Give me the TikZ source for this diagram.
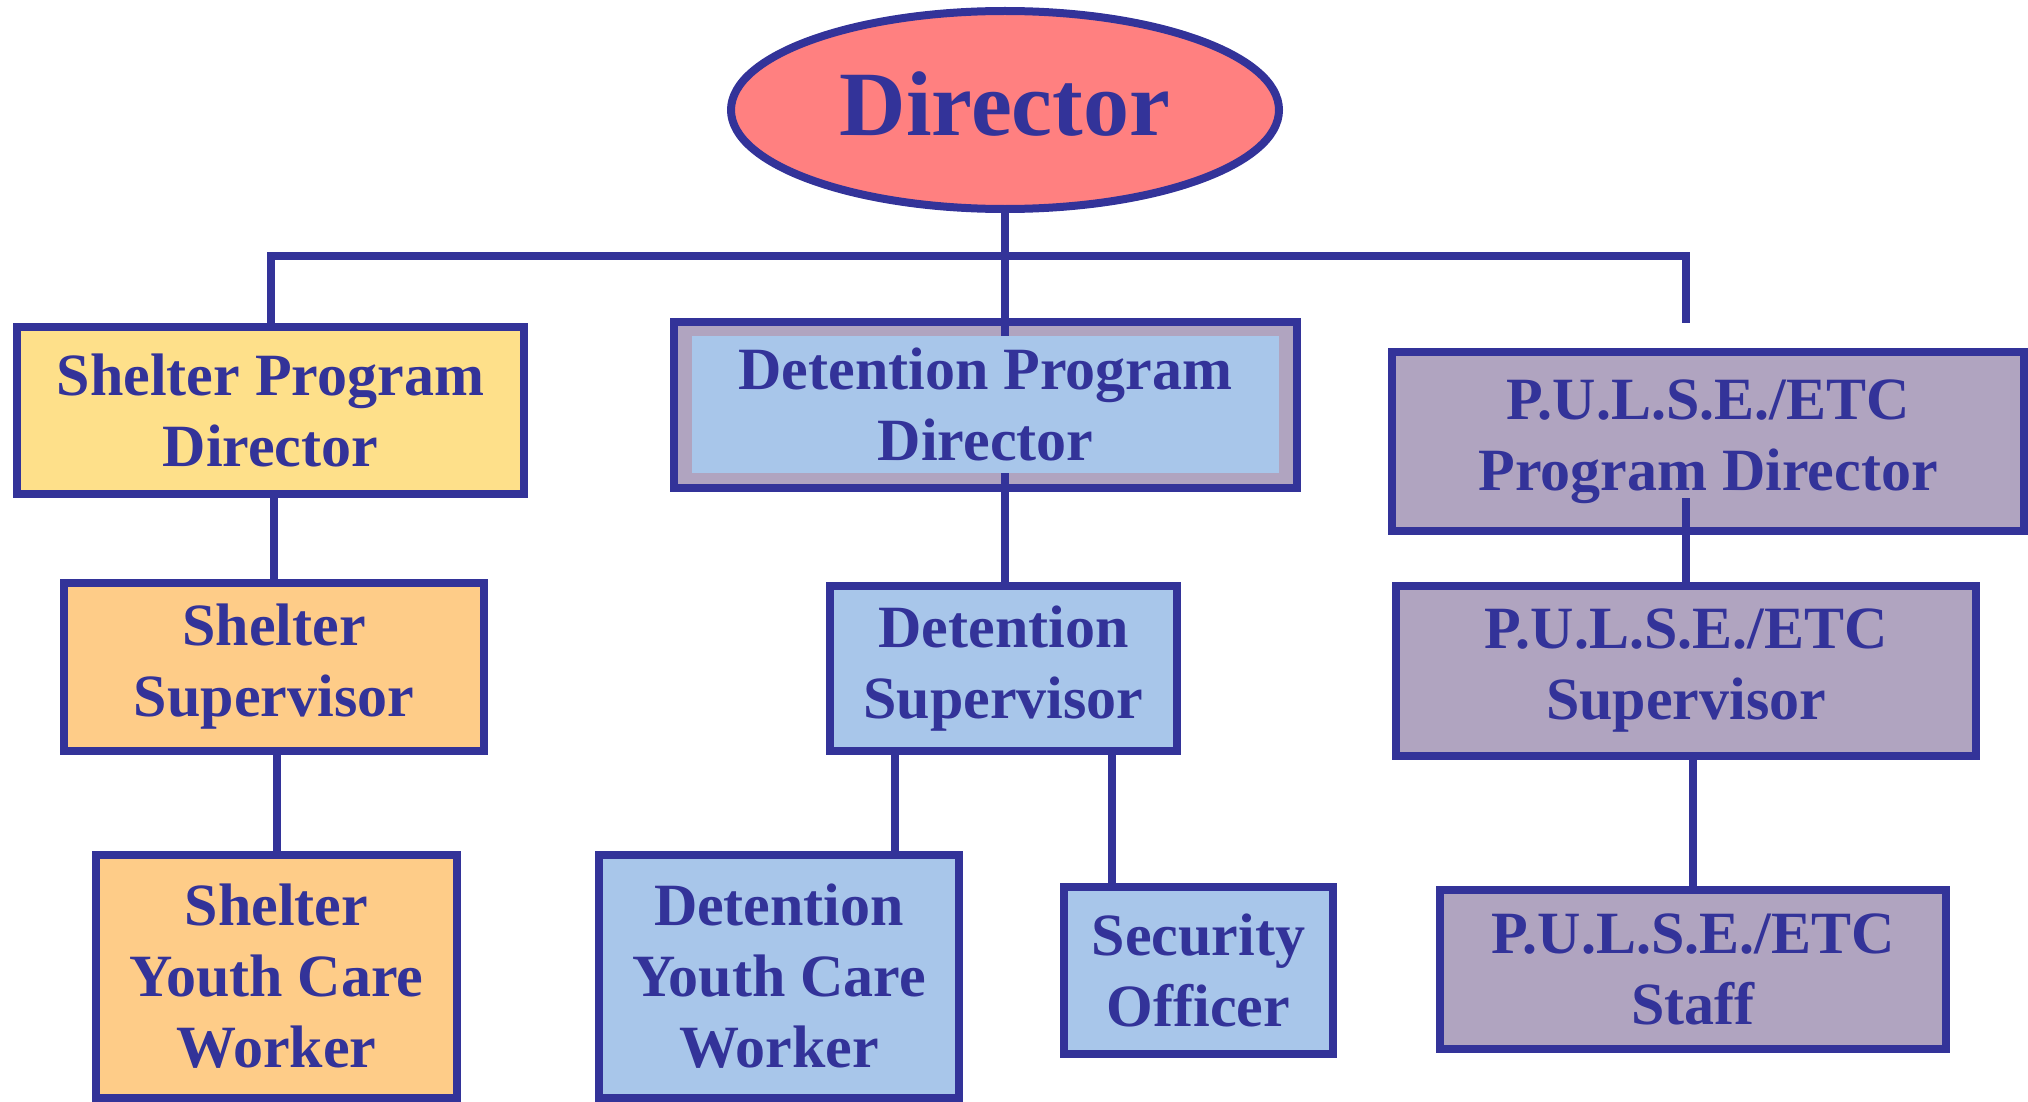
\documentclass[tikz,border=0pt]{standalone}
\usepackage{fontspec}
\setmainfont{Liberation Serif}
\usepackage{tikz}
\usetikzlibrary{shapes.geometric}
\definecolor{ink}{RGB}{51,51,153}
\definecolor{top}{RGB}{255,128,128}
\definecolor{shelter}{RGB}{254,224,138}
\definecolor{shelterlow}{RGB}{254,204,136}
\definecolor{detention}{RGB}{168,198,234}
\definecolor{pulse}{RGB}{176,164,192}
\newcommand{\drawwire}{\draw[line width=4pt, ink]}
\tikzset{
    unit/.style={draw=ink, line width=4pt, inner sep=0pt, align=center, text=ink,
        font=\fontsize{30}{35.5}\selectfont\bfseries},
}

\begin{document}
\begin{tikzpicture}[x=1pt, y=-1pt]
\useasboundingbox (0,0) rectangle (1014,551);
% top of the chart
\node[unit, ellipse, fill=top, minimum width=274pt, minimum height=99pt, text depth=6pt,
    font=\fontsize{46}{50}\selectfont\bfseries] (director) at (502.5,55) {Director};
% program directors
\node[unit, fill=shelter, minimum width=253.5pt, minimum height=83.5pt] (spd) at (135.25,205.25) {Shelter Program\\Director};
\node[unit, fill=pulse, minimum width=311.5pt, minimum height=83pt] (dpdframe) at (492.75,202.5) {};
\node[unit, draw=none, outer sep=0pt, fill=detention, minimum width=293.5pt, minimum height=68.5pt] (dpd) at (492.75,202.25) {Detention Program\\Director};
\node[unit, fill=pulse, minimum width=316pt, minimum height=89.5pt] (ppd) at (854,220.75) {P.U.L.S.E./ETC\\Program Director};
% supervisors
\node[unit, fill=shelterlow, minimum width=210pt, minimum height=84pt] (ssup) at (137,333.5) {Shelter\\Supervisor};
\node[unit, fill=detention, minimum width=173.5pt, minimum height=82.5pt] (dsup) at (501.75,334.25) {Detention\\Supervisor};
\node[unit, fill=pulse, minimum width=290pt, minimum height=85pt] (psup) at (843,335.5) {P.U.L.S.E./ETC\\Supervisor};
% staff
\node[unit, fill=shelterlow, minimum width=180.5pt, minimum height=121.5pt] (sycw) at (138.25,488.25) {Shelter\\Youth Care\\Worker};
\node[unit, fill=detention, minimum width=180pt, minimum height=121.5pt] (dycw) at (389.5,488.25) {Detention\\Youth Care\\Worker};
\node[unit, fill=detention, minimum width=134.5pt, minimum height=83.5pt] (sec) at (599.25,485.25) {Security\\Officer};
\node[unit, fill=pulse, minimum width=253pt, minimum height=79.5pt] (staff) at (846.5,484.75) {P.U.L.S.E./ETC\\Staff};
% wires
\coordinate (busend) at (842.75,128);
\coordinate (pulsedrop) at (842.75,161.5);
\drawwire (spd.north) |- (busend) -- (pulsedrop);
\drawwire (director.south) -- (director.south |- dpd.north);
\drawwire (dpd.south -| director.south) -- (dsup.north -| director.south);
\drawwire (ssup.north) -- (ssup.north |- spd.south);
\drawwire (sycw.north) -- (sycw.north |- ssup.south);
\drawwire ([xshift=-54.25pt]dsup.south) -- ([xshift=-54.25pt]dsup.south |- dycw.north);
\drawwire ([xshift=54.25pt]dsup.south) -- ([xshift=54.25pt]dsup.south |- sec.north);
\drawwire ([yshift=18.5pt]ppd.south -| psup.north) -- (psup.north);
\drawwire (staff.north) -- (staff.north |- psup.south);
\end{tikzpicture}
\end{document}
